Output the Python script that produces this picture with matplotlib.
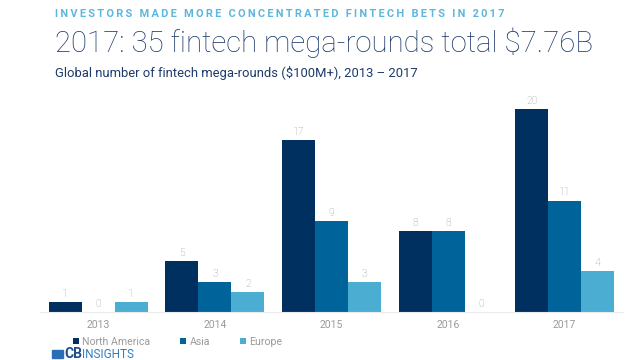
import numpy as np
import matplotlib.pyplot as plt
from matplotlib.patches import Rectangle

# --- DATA ---------------------------------------------------------------
years = ["2013", "2014", "2015", "2016", "2017"]
north_america = [1, 5, 17, 8, 20]
asia = [0, 3, 9, 8, 11]
europe = [1, 2, 3, 0, 4]
series_names = ["North America", "Asia", "Europe"]
# ------------------------------------------------------------------------

colors = ["#00305f", "#00649a", "#4badd1"]
label_grey = "#9a9a9a"
title_blue = "#1d3a6b"

plt.rcParams["font.family"] = ["Roboto", "DejaVu Sans"]

fig = plt.figure(figsize=(6.4, 3.6), dpi=100)
ax = fig.add_axes([40 / 640, 48 / 360, 583 / 640, 223 / 360])

x = np.arange(len(years))
w = 0.283
for i, (vals, col) in enumerate(zip([north_america, asia, europe], colors)):
    pos = x + (i - 1) * w
    ax.bar(pos, vals, width=w, color=col, label=series_names[i])
    for px, v in zip(pos, vals):
        ax.text(px, v + 0.3, str(v), ha="center", va="bottom",
                fontsize=7.5, color=label_grey, fontweight="light")

ax.set_xlim(-0.5, 4.5)
ax.set_ylim(0, 22)
ax.set_yticks([])
ax.set_xticks(x)
ax.set_xticklabels(years, fontsize=7.5, color=label_grey)
ax.tick_params(axis="x", length=0, pad=5.5)
for s in ["top", "right", "left"]:
    ax.spines[s].set_visible(False)
ax.spines["bottom"].set_color("#ececec")

# titles
top = "\u2009".join("INVESTORS MADE MORE CONCENTRATED FINTECH BETS IN 2017")
fig.text(55 / 640, 1 - 14 / 360, top, fontsize=7.9, fontweight="bold",
         color="#5bb7dd", va="center", ha="left")
fig.text(55 / 640, 1 - 43 / 360, "2017: 35 fintech mega-rounds total $7.76B",
         fontsize=21.2, fontweight="light", color=title_blue, va="center", ha="left")
fig.text(55 / 640, 1 - 73 / 360,
         "Global number of fintech mega-rounds ($100M+), 2013 \u2013 2017",
         fontsize=9.4, color=title_blue, va="center", ha="left")

# legend
leg = fig.legend(*ax.get_legend_handles_labels(), loc="center left",
                 bbox_to_anchor=(73 / 640, 1 - 342 / 360), ncol=3,
                 frameon=False, fontsize=7.6, handlelength=0.55, handleheight=0.55,
                 handletextpad=0.35, columnspacing=2.8, borderpad=0, borderaxespad=0)
for t in leg.get_texts():
    t.set_color(label_grey)

# CB Insights logo
fig.patches.append(Rectangle((52 / 640, 1 - 358 / 360), 11 / 640, 8 / 360,
                             transform=fig.transFigure, color="#2a6fb5"))
fig.text(64 / 640, 1 - 354 / 360, "CB", fontsize=10, fontweight="bold",
         color="#1f4e8c", va="center", ha="left")
fig.text(82 / 640, 1 - 354 / 360, "INSIGHTS", fontsize=8.5,
         color="#2f7fc1", va="center", ha="left")

fig.savefig("out.png", dpi=100)
